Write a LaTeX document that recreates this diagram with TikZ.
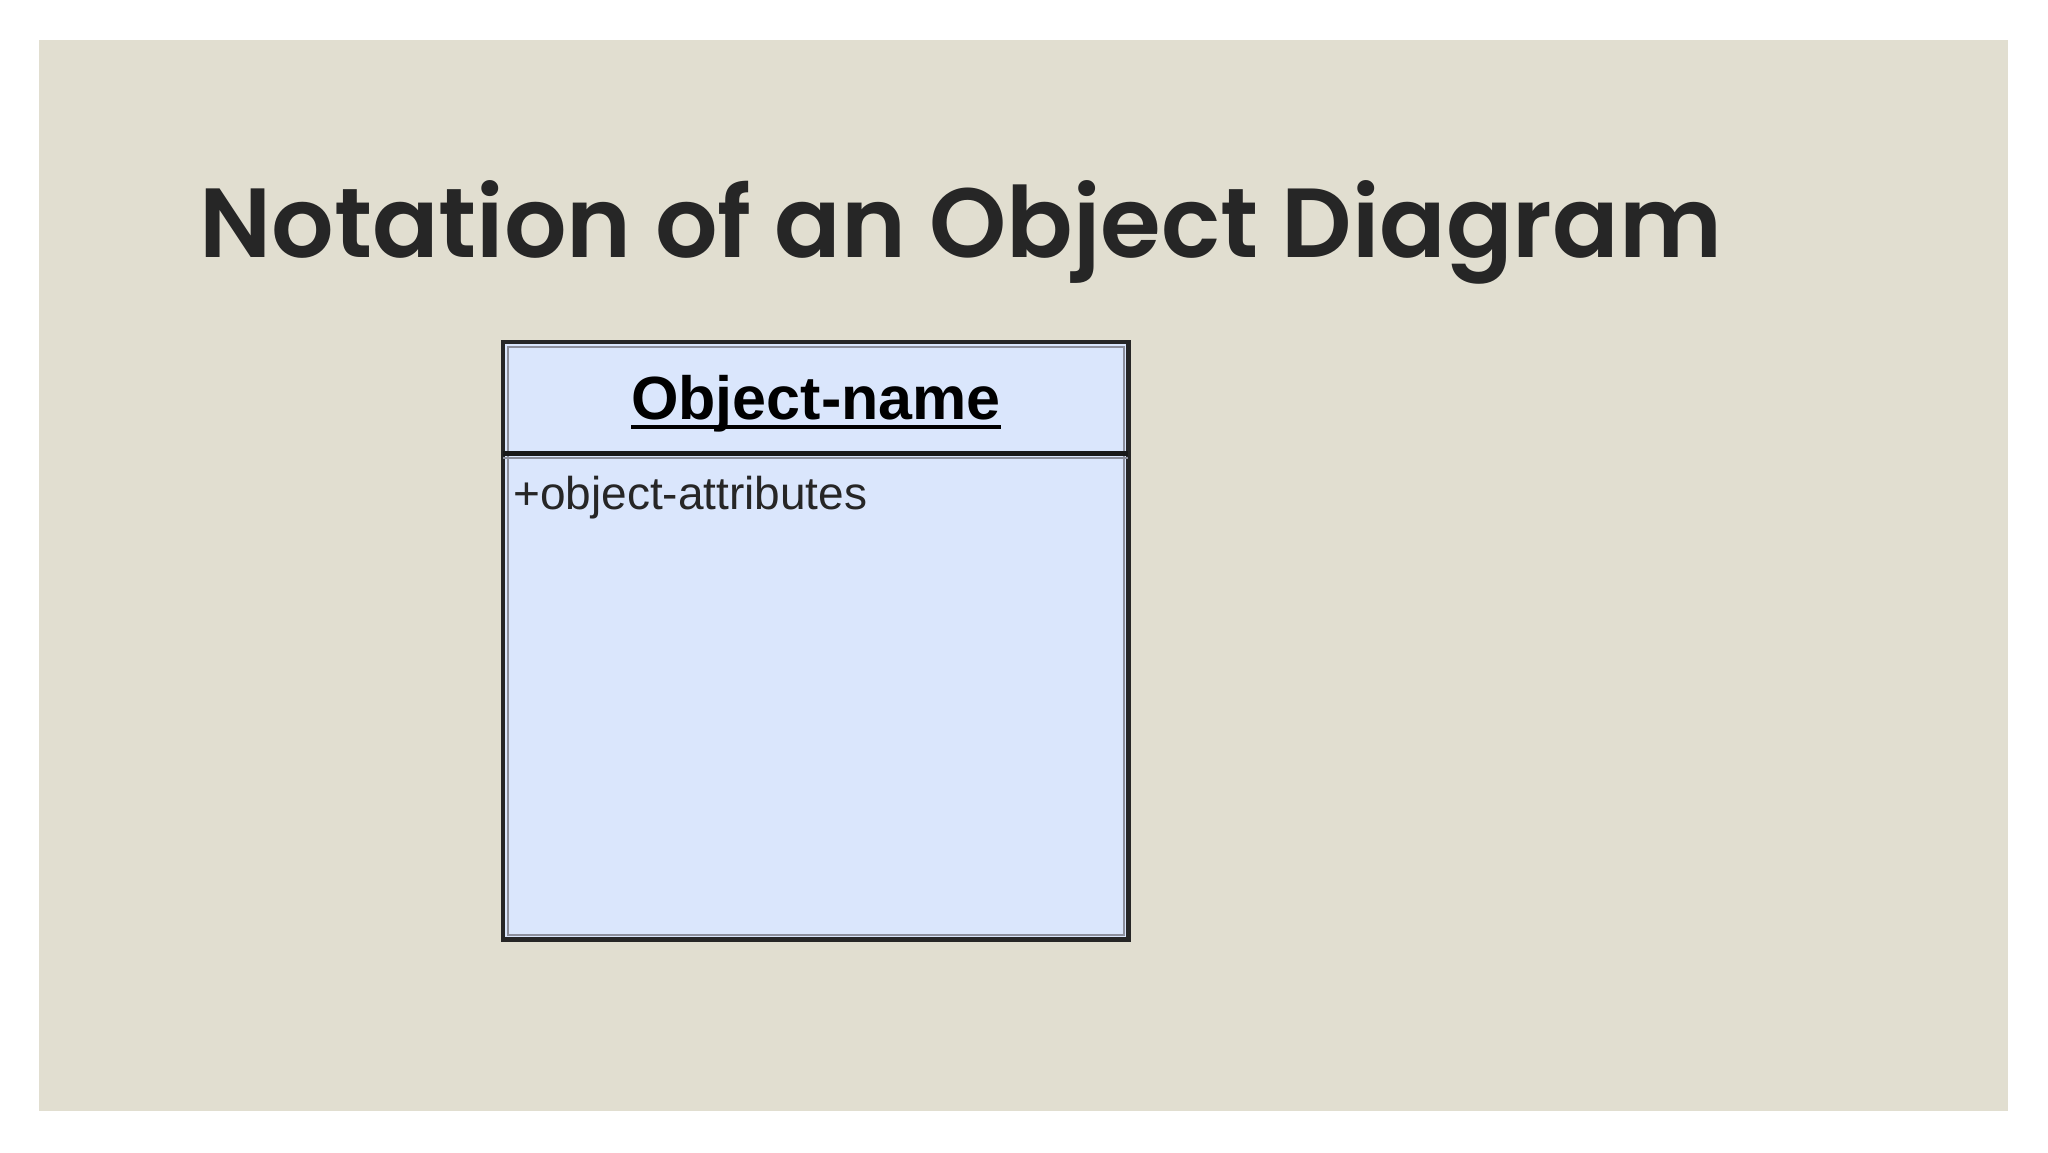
\documentclass[tikz,border=0pt]{standalone}
\usepackage{fontspec}
\setmainfont{Liberation Sans}
\newfontfamily\titlefont{Poppins SemiBold}
\definecolor{beige}{HTML}{E1DED0}
\definecolor{boxfill}{HTML}{DAE6FC}
\definecolor{titlecol}{HTML}{262626}
\definecolor{edgegray}{HTML}{8C8F9C}
\begin{document}
\begin{tikzpicture}[x=1pt,y=-1pt,
  compart/.style={rectangle, fill=boxfill, inner sep=0pt, anchor=north west, minimum width=625pt},
  lbl/.style={inner sep=0pt, text=black}]
\useasboundingbox (0,0) rectangle (2048,1152);
\fill[white] (0,0) rectangle (2048,1152);
\fill[beige] (39,40) rectangle (2008,1111);
\node[inner sep=0pt, anchor=base west, text=titlecol,
  font=\titlefont\fontsize{98.2}{110}\selectfont] (title) at (199,257) {Notation of an Object Diagram};
% compartments
\node[compart, minimum height=111pt] (head) at (503,342) {};
\node[compart, minimum height=486pt] (body) at (503,453) {};
% borders
\draw[edgegray, line width=2pt] ([shift={(4.5,4.5)}]head.north west) rectangle ([shift={(-4.5,-4.5)}]body.south east);
\draw[black!85, line width=4.5pt] (head.north west) rectangle (body.south east);
\draw[black!90, line width=5pt] (head.south west) -- (head.south east);
\draw[edgegray, line width=2pt] ([yshift=-4.5]head.south west) -- ([yshift=-4.5]head.south east);
% texts
\node[lbl, anchor=base, font=\bfseries\fontsize{61}{70}\selectfont] (oname) at (816,419) {Object-name};
\draw[black, line width=3.5pt] ([yshift=-8]oname.base west) -- ([yshift=-8]oname.base east);
\node[lbl, anchor=base west, font=\fontsize{46}{54}\selectfont, text=black!85] (attr) at (513,509) {+object-attributes};
\end{tikzpicture}
\end{document}
